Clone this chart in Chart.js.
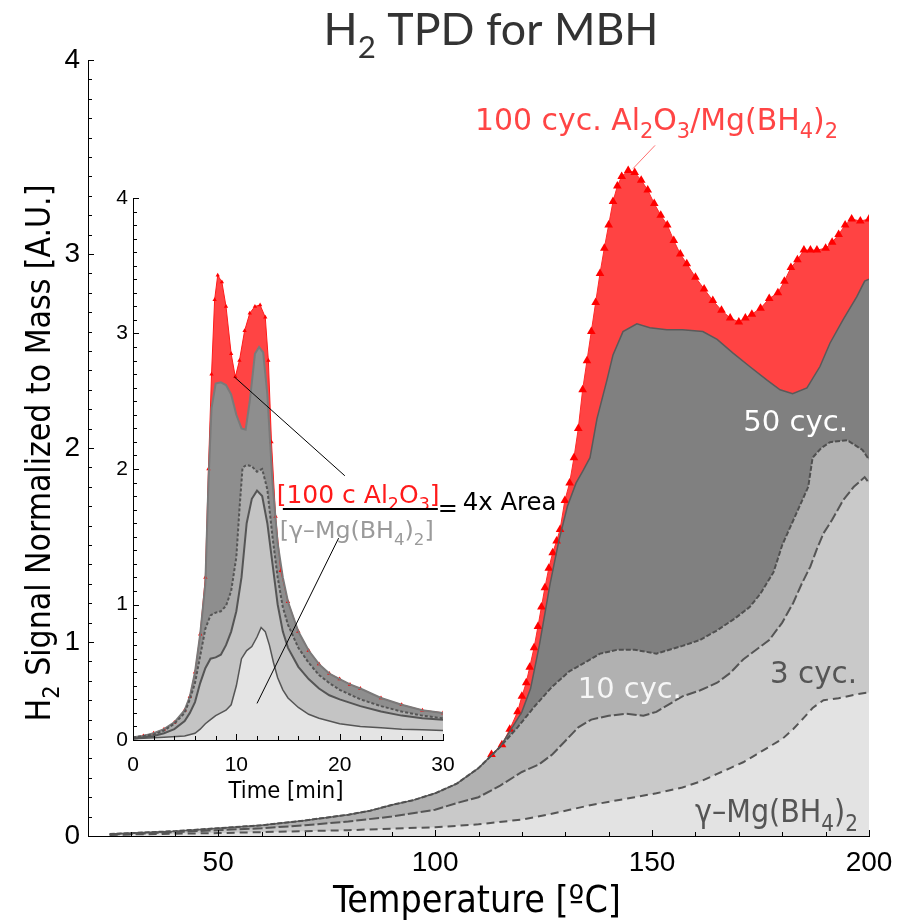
<!DOCTYPE html>
<html>
<head>
<meta charset="utf-8">
<script src="https://cdn.jsdelivr.net/npm/chart.js@4.4.1/dist/chart.umd.min.js"></script>
<style>
  html, body { margin: 0; padding: 0; background: #fff; }
  #wrap { position: relative; width: 911px; height: 920px; }
  #mainChart { position: absolute; left: 0; top: 0; }
  #insetChart { position: absolute; left: 100px; top: 180px; }
</style>
</head>
<body>
<div id="wrap">
  <canvas id="mainChart" width="911" height="920"></canvas>
  <canvas id="insetChart" width="470" height="630"></canvas>
</div>
<script>
// ---- main panel: H2 signal vs temperature [C] ----
const gammaT = [25, 30, 40, 50, 60, 70, 80, 90, 100, 110, 120, 126, 131, 136, 141, 146, 151, 157, 161, 165, 168, 171, 174, 177, 180, 182.5, 185, 187, 189.5, 193, 197, 200];
const gammaH2 = [0.005, 0.008, 0.012, 0.015, 0.02, 0.025, 0.03, 0.038, 0.045, 0.06, 0.085, 0.11, 0.135, 0.16, 0.18, 0.2, 0.22, 0.25, 0.28, 0.32, 0.35, 0.38, 0.42, 0.46, 0.5, 0.55, 0.61, 0.66, 0.7, 0.71, 0.73, 0.74];

const cyc3T = [25, 30, 40, 50, 60, 70, 80, 90, 100, 105, 110, 115, 120, 124, 127, 130, 133, 136, 140, 144, 148, 151, 154, 157, 161, 165, 168, 171, 174, 177, 180, 182.5, 184.5, 186.5, 188, 189.5, 191.5, 194, 196.5, 199, 200];
const cyc3H2 = [0.008, 0.01, 0.02, 0.03, 0.04, 0.055, 0.075, 0.1, 0.135, 0.17, 0.2, 0.26, 0.33, 0.37, 0.42, 0.49, 0.56, 0.6, 0.62, 0.63, 0.62, 0.64, 0.68, 0.72, 0.75, 0.79, 0.84, 0.91, 0.96, 1.01, 1.1, 1.2, 1.3, 1.39, 1.48, 1.56, 1.63, 1.73, 1.8, 1.85, 1.82];

const cyc10T = [25, 30, 40, 50, 60, 70, 80, 85, 90, 95, 100, 105, 110, 115, 119, 123, 127, 131, 135, 138, 142, 146, 151, 154, 157, 161, 165, 169, 172.5, 175, 178, 180, 182, 184, 186, 187, 189, 191, 195, 198.5, 200];
const cyc10H2 = [0.01, 0.015, 0.025, 0.04, 0.055, 0.08, 0.11, 0.13, 0.16, 0.185, 0.22, 0.27, 0.35, 0.46, 0.56, 0.67, 0.77, 0.85, 0.9, 0.94, 0.96, 0.96, 0.94, 0.96, 0.98, 1.01, 1.06, 1.12, 1.18, 1.25, 1.36, 1.5, 1.6, 1.7, 1.8, 1.95, 2.0, 2.03, 2.04, 1.99, 1.94];

const cyc50T = [25, 30, 40, 50, 60, 70, 80, 85, 90, 95, 100, 105, 110, 115, 117.5, 120, 122, 124, 126.5, 128.5, 130.5, 132.5, 134, 135.7, 137.3, 139.6, 141, 143.3, 146.5, 149.5, 153.4, 157, 161.7, 165, 168.6, 172.5, 176.5, 179.5, 182.4, 185.7, 188.7, 191, 194, 197.2, 199, 200];
const cyc50H2 = [0.01, 0.015, 0.025, 0.04, 0.055, 0.08, 0.11, 0.13, 0.16, 0.185, 0.22, 0.27, 0.35, 0.46, 0.55, 0.64, 0.76, 0.98, 1.3, 1.52, 1.7, 1.82, 1.88, 1.95, 2.15, 2.35, 2.48, 2.6, 2.64, 2.62, 2.61, 2.61, 2.6, 2.56, 2.49, 2.42, 2.35, 2.3, 2.28, 2.31, 2.42, 2.54, 2.66, 2.78, 2.86, 2.87];

const redT = [113, 115.4, 117.2, 119, 120, 121, 121.8, 122.8, 123.7, 124.5, 125.3, 126.2, 127.1, 128, 128.8, 129.9, 131, 132, 133, 134, 135, 136, 137, 138, 139, 140, 141, 142, 143, 144.5, 146, 147.5, 149, 150.5, 152, 153.5, 155, 156.5, 158, 160, 162, 164, 166, 168, 170, 171.5, 173, 175, 177, 179, 180.5, 182, 183.5, 185, 186.5, 188, 190, 191.5, 193, 194.5, 196, 198, 200];
const redH2 = [0.42, 0.47, 0.55, 0.64, 0.72, 0.79, 0.87, 0.97, 1.08, 1.18, 1.28, 1.38, 1.46, 1.52, 1.58, 1.73, 1.82, 1.95, 2.1, 2.3, 2.45, 2.6, 2.75, 2.9, 3.03, 3.15, 3.27, 3.35, 3.4, 3.43, 3.42, 3.38, 3.33, 3.26, 3.2, 3.15, 3.07, 3.0, 2.95, 2.88, 2.82, 2.76, 2.71, 2.67, 2.65, 2.67, 2.69, 2.72, 2.77, 2.8, 2.86, 2.93, 2.97, 3.02, 3.02, 3.02, 3.03, 3.06, 3.1, 3.15, 3.18, 3.17, 3.18];

// ---- inset: H2 signal vs time [min] ----
const inGammaT = [0, 3, 5, 6, 6.5, 7, 7.5, 8, 8.5, 9, 9.5, 10, 10.5, 11, 11.5, 12, 12.4, 12.8, 13.2, 13.6, 14, 14.5, 15, 16, 17, 18, 20, 22, 24, 26, 28, 30];
const inGammaH2 = [0.01, 0.02, 0.03, 0.05, 0.08, 0.12, 0.15, 0.18, 0.2, 0.22, 0.26, 0.4, 0.6, 0.66, 0.69, 0.76, 0.83, 0.8, 0.7, 0.57, 0.46, 0.37, 0.31, 0.24, 0.19, 0.16, 0.12, 0.1, 0.09, 0.08, 0.075, 0.07];

const in3T = [0, 2, 3, 4, 5, 5.5, 6, 6.5, 7, 7.5, 8, 8.5, 9, 9.5, 10, 10.5, 11, 11.5, 12, 12.5, 13, 13.5, 14, 14.5, 15, 16, 17, 18, 19, 20, 22, 24, 26, 28, 30];
const in3H2 = [0.01, 0.03, 0.05, 0.08, 0.14, 0.2, 0.28, 0.42, 0.53, 0.6, 0.61, 0.63, 0.7, 0.8, 0.95, 1.2, 1.6, 1.78, 1.84, 1.8, 1.6, 1.3, 1.0, 0.8, 0.68, 0.54, 0.45, 0.38, 0.33, 0.3, 0.25, 0.21, 0.18, 0.16, 0.15];

const in10T = [0, 2, 3, 4, 5, 5.5, 6, 6.5, 7, 7.5, 8, 8.5, 9, 9.5, 10, 10.3, 10.6, 11, 11.5, 12, 12.5, 13, 13.5, 14, 14.5, 15, 16, 17, 18, 19, 20, 22, 24, 26, 28, 30];
const in10H2 = [0.02, 0.04, 0.07, 0.12, 0.2, 0.3, 0.42, 0.62, 0.82, 0.92, 0.94, 0.95, 0.99, 1.1, 1.35, 1.7, 2.01, 2.03, 2.02, 1.98, 2.0, 1.85, 1.5, 1.2, 0.98, 0.85, 0.68, 0.57, 0.48, 0.42, 0.37, 0.3, 0.25, 0.21, 0.18, 0.16];

const in50T = [0, 1, 2, 3, 4, 5, 5.5, 6, 6.5, 7, 7.3, 7.6, 8, 8.5, 9, 9.5, 10, 10.5, 10.9, 11.3, 11.8, 12.2, 12.6, 13, 13.5, 14, 14.5, 15, 16, 17, 18, 19, 20, 21, 22, 24, 26, 28, 30];
const in50H2 = [0.02, 0.03, 0.05, 0.08, 0.13, 0.22, 0.32, 0.5, 0.78, 1.15, 1.9, 2.45, 2.63, 2.64, 2.62, 2.55, 2.4, 2.3, 2.29, 2.5, 2.85, 2.9, 2.86, 2.55, 1.9, 1.45, 1.2, 1.02, 0.8, 0.66, 0.56, 0.49, 0.45, 0.41, 0.38, 0.31, 0.26, 0.22, 0.2];

const inRedT = [0, 1, 2, 3, 4, 5, 5.5, 6, 6.5, 7, 7.3, 7.6, 7.9, 8.2, 8.6, 9, 9.5, 9.9, 10.3, 10.8, 11.3, 11.8, 12.3, 12.8, 13.1, 13.4, 13.8, 14.3, 15, 16, 17, 18, 19, 20, 21, 22, 24, 26, 28, 30];
const inRedH2 = [0.02, 0.03, 0.05, 0.08, 0.13, 0.22, 0.32, 0.5, 0.78, 1.2, 2.0, 2.7, 3.25, 3.43, 3.38, 3.2, 2.85, 2.68, 2.8, 3.02, 3.15, 3.2, 3.21, 3.12, 2.8, 2.2, 1.65, 1.25, 1.02, 0.8, 0.66, 0.56, 0.49, 0.45, 0.41, 0.38, 0.31, 0.26, 0.22, 0.2];

// tick labels
const mainTempTicks = [50, 100, 150, 200];
const mainH2Ticks = [0, 1, 2, 3, 4];
const insetTimeTicks = [0, 10, 20, 30];
const insetH2Ticks = [0, 1, 2, 3, 4];

const SANS = "'Liberation Sans', Arial, sans-serif";
const LUCIDA = "'DejaVu Sans', sans-serif";
const NARROW = "'Liberation Sans Narrow', 'DejaVu Sans Condensed', sans-serif";
const TITLE_FONT = "Lato, 'Open Sans', sans-serif";

const pts = (xs, ys) => xs.map((x, i) => ({ x: x, y: ys[i] }));

function area(xs, ys, fillColor, lineColor, extra) {
  return Object.assign({
    data: pts(xs, ys),
    fill: "origin",
    backgroundColor: fillColor,
    borderColor: lineColor,
    borderWidth: 2,
    pointRadius: 0,
    tension: 0,
  }, extra);
}

// text with subscripts: parts = [[text, isSub], ...]
function drawRich(ctx, parts, x, y, o) {
  let size = o.size || 20;
  const widthAt = s => parts.reduce((w, p) => {
    ctx.font = (p[1] ? s * 0.7 : s) + "px " + o.family;
    return w + ctx.measureText(p[0]).width;
  }, 0);
  if (o.width) size = size * o.width / widthAt(size);
  const total = widthAt(size);
  ctx.save();
  ctx.translate(x, y);
  if (o.rotate) ctx.rotate(o.rotate);
  let cx = o.align === "center" ? -total / 2 : 0;
  ctx.fillStyle = o.color || "#000";
  ctx.textAlign = "left";
  ctx.textBaseline = "alphabetic";
  parts.forEach(p => {
    ctx.font = (p[1] ? size * 0.7 : size) + "px " + o.family;
    ctx.fillText(p[0], cx, p[1] ? size * 0.28 : 0);
    cx += ctx.measureText(p[0]).width;
  });
  ctx.restore();
}

// Mathematica style ticks pointing into the plot
function inwardTicks(ctx, a, xs, ys, xStep, xMajor, yStep, yMajor) {
  ctx.save();
  ctx.strokeStyle = "#000";
  ctx.lineWidth = 1;
  ctx.beginPath();
  for (let v = Math.ceil(xs.min / xStep) * xStep; v <= xs.max + 1e-9; v += xStep) {
    const px = Math.round(xs.getPixelForValue(v)) + 0.5;
    const len = xMajor.some(m => Math.abs(m - v) < 1e-6) ? 6 : 4;
    ctx.moveTo(px, a.bottom);
    ctx.lineTo(px, a.bottom - len);
  }
  for (let v = ys.min; v <= ys.max + 1e-9; v += yStep) {
    const py = Math.round(ys.getPixelForValue(v)) + 0.5;
    const len = yMajor.some(m => Math.abs(m - v) < 1e-6) ? 6 : 4;
    ctx.moveTo(a.left, py);
    ctx.lineTo(a.left + len, py);
  }
  ctx.stroke();
  ctx.restore();
}

function line(ctx, x0, y0, x1, y1, color, w) {
  ctx.save();
  ctx.strokeStyle = color;
  ctx.lineWidth = w;
  ctx.beginPath();
  ctx.moveTo(x0, y0);
  ctx.lineTo(x1, y1);
  ctx.stroke();
  ctx.restore();
}

const mainDecor = {
  id: "mainDecor",
  afterDraw(chart) {
    const { ctx, chartArea: a, scales: { x, y } } = chart;
    inwardTicks(ctx, a, x, y, 10, mainTempTicks, 0.1, mainH2Ticks);

    drawRich(ctx, [["H"], ["2", 1], [" TPD for MBH"]], 491, 45,
      { family: TITLE_FONT, size: 40, width: 335, color: "#333", align: "center" });
    drawRich(ctx, [["H"], ["2", 1], [" Signal Normalized to Mass [A.U.]"]], 50, (a.top + a.bottom) / 2 + 5,
      { family: NARROW, size: 28, width: 537, color: "#000", align: "center", rotate: -Math.PI / 2 });
    drawRich(ctx, [["Temperature [ºC]"]], 477, 912,
      { family: NARROW, size: 30, width: 288, color: "#000", align: "center" });

    // series labels
    drawRich(ctx, [["100 cyc. Al"], ["2", 1], ["O"], ["3", 1], ["/Mg(BH"], ["4", 1], [")"], ["2", 1]],
      x.getPixelForValue(109.2), y.getPixelForValue(3.64), { family: LUCIDA, size: 28, width: 363, color: "#ff4545" });
    line(ctx, x.getPixelForValue(150.7), y.getPixelForValue(3.56), x.getPixelForValue(145.6), y.getPixelForValue(3.44), "#ff7070", 1);
    drawRich(ctx, [["50 cyc."]], x.getPixelForValue(171), y.getPixelForValue(2.09),
      { family: LUCIDA, size: 28, width: 105, color: "#ffffff" });
    drawRich(ctx, [["10 cyc."]], x.getPixelForValue(132.9), y.getPixelForValue(0.71),
      { family: LUCIDA, size: 28, width: 104, color: "#f6f6f6" });
    drawRich(ctx, [["3 cyc."]], x.getPixelForValue(177.2), y.getPixelForValue(0.79),
      { family: LUCIDA, size: 28, width: 87, color: "#555" });
    drawRich(ctx, [["γ–Mg(BH"], ["4", 1], [")"], ["2", 1]], x.getPixelForValue(159.9), y.getPixelForValue(0.072),
      { family: NARROW, size: 28, width: 163, color: "#555" });
  }
};

new Chart(document.getElementById("mainChart"), {
  type: "line",
  data: {
    datasets: [
      area(gammaT, gammaH2, "#e3e3e3", "#555", { borderDash: [8, 5] }),
      area(cyc3T, cyc3H2, "#c9c9c9", "#555", { borderDash: [10, 3] }),
      area(cyc10T, cyc10H2, "#b1b1b1", "#505050", { borderDash: [5, 2] }),
      area(cyc50T, cyc50H2, "#808080", "#5a5a5a", { borderWidth: 1.5 }),
      area(redT, redH2, "#ff4343", "#ff2a2a", {
        borderWidth: 1, pointRadius: 5, pointStyle: "triangle",
        pointBackgroundColor: "#ff0000", pointBorderWidth: 0,
      }),
    ],
  },
  options: {
    responsive: false,
    animation: false,
    layout: { padding: { top: 60, right: 42, left: 0, bottom: 0 } },
    plugins: {
      legend: { display: false },
      tooltip: { enabled: false },
      filler: { drawTime: "beforeDatasetsDraw" },
    },
    scales: {
      x: {
        type: "linear",
        min: 20,
        max: 200,
        grid: { display: false, drawTicks: false },
        border: { color: "#000", width: 1 },
        ticks: { autoSkip: false, padding: 10, color: "#000", font: { family: SANS, size: 28 } },
        afterBuildTicks: s => { s.ticks = mainTempTicks.map(v => ({ value: v })); },
        afterFit: s => { s.height = 84; },
      },
      y: {
        min: 0,
        max: 4,
        grid: { display: false, drawTicks: false },
        border: { color: "#000", width: 1 },
        ticks: { padding: 8, color: "#000", font: { family: SANS, size: 28 } },
        afterBuildTicks: s => { s.ticks = mainH2Ticks.map(v => ({ value: v })); },
        afterFit: s => { s.width = 88; },
      },
    },
  },
  plugins: [mainDecor],
});

const insetDecor = {
  id: "insetDecor",
  afterDraw(chart) {
    const { ctx, chartArea: a, scales: { x, y } } = chart;
    inwardTicks(ctx, a, x, y, 2, insetTimeTicks, 0.1, insetH2Ticks);
    drawRich(ctx, [["Time [min]"]], (a.left + a.right) / 2 - 2, 618,
      { family: NARROW, size: 22, width: 115, color: "#000", align: "center" });

    // leader lines
    line(ctx, x.getPixelForValue(9.8), y.getPixelForValue(2.68), x.getPixelForValue(20.5), y.getPixelForValue(1.95), "#000", 1);
    line(ctx, x.getPixelForValue(12.0), y.getPixelForValue(0.27), x.getPixelForValue(19.9), y.getPixelForValue(1.49), "#000", 1);

    // area ratio fraction
    drawRich(ctx, [["[100 c Al"], ["2", 1], ["O"], ["3", 1], ["]"]], x.getPixelForValue(13.9), y.getPixelForValue(1.75),
      { family: LUCIDA, size: 24, width: 163, color: "#ff1a1a" });
    line(ctx, x.getPixelForValue(14.5), y.getPixelForValue(1.705), x.getPixelForValue(29.5), y.getPixelForValue(1.705), "#000", 2);
    drawRich(ctx, [["[γ–Mg(BH"], ["4", 1], [")"], ["2", 1], ["]"]], x.getPixelForValue(14.2), y.getPixelForValue(1.49),
      { family: LUCIDA, size: 24, width: 154, color: "#9a9a9a" });
    drawRich(ctx, [["="]], x.getPixelForValue(29.5), y.getPixelForValue(1.705) + 7,
      { family: LUCIDA, size: 24, color: "#000" });
    drawRich(ctx, [["4x Area"]], x.getPixelForValue(31.9), y.getPixelForValue(1.70),
      { family: LUCIDA, size: 24, width: 94, color: "#000" });
  }
};

new Chart(document.getElementById("insetChart"), {
  type: "line",
  data: {
    datasets: [
      area(inGammaT, inGammaH2, "#e4e4e4", "#555", { borderWidth: 1.5 }),
      area(in3T, in3H2, "#c4c4c4", "#555", { borderWidth: 2 }),
      area(in10T, in10H2, "#adadad", "#555", { borderDash: [3, 2] }),
      area(in50T, in50H2, "#8e8e8e", "#7a7a7a", { borderWidth: 2 }),
      area(inRedT, inRedH2, "#ff4444", "#ff1a1a", {
        borderWidth: 1, pointRadius: 2.5, pointStyle: "triangle",
        pointBackgroundColor: "#ff0000", pointBorderWidth: 0,
      }),
    ],
  },
  options: {
    responsive: false,
    animation: false,
    layout: { padding: { top: 18, right: 127, left: 0, bottom: 0 } },
    plugins: {
      legend: { display: false },
      tooltip: { enabled: false },
      filler: { drawTime: "beforeDatasetsDraw" },
    },
    scales: {
      x: {
        type: "linear",
        min: 0,
        max: 30,
        grid: { display: false, drawTicks: false },
        border: { color: "#000", width: 1 },
        ticks: { autoSkip: false, padding: 13, color: "#000", font: { family: SANS, size: 21 } },
        afterBuildTicks: s => { s.ticks = insetTimeTicks.map(v => ({ value: v })); },
        afterFit: s => { s.height = 70; },
      },
      y: {
        min: 0,
        max: 4,
        grid: { display: false, drawTicks: false },
        border: { color: "#000", width: 1 },
        ticks: { padding: 5, color: "#000", font: { family: SANS, size: 21 } },
        afterBuildTicks: s => { s.ticks = insetH2Ticks.map(v => ({ value: v })); },
        afterFit: s => { s.width = 33; },
      },
    },
  },
  plugins: [insetDecor],
});
</script>
</body>
</html>
